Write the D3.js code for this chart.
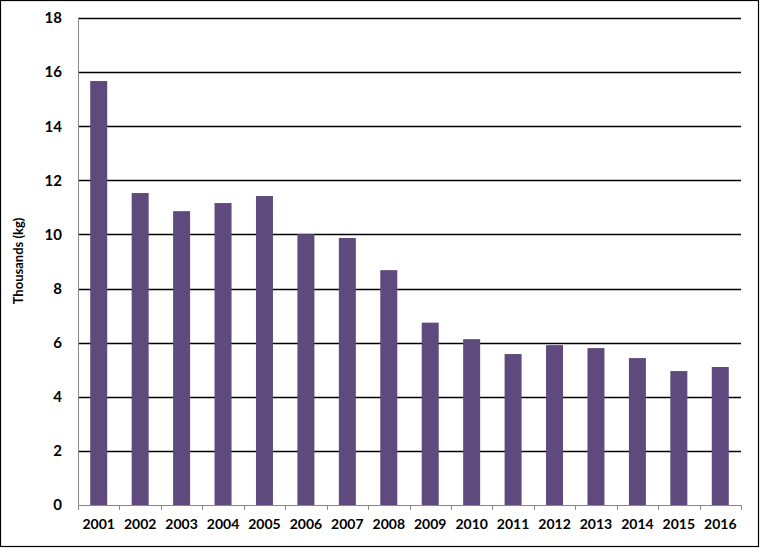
<!DOCTYPE html>
<html><head><meta charset="utf-8">
<script src="https://cdn.jsdelivr.net/npm/d3@7"></script>
<style>body{margin:0;background:#fff}svg{display:block}text{font-family:Lato,"Open Sans",sans-serif;font-weight:bold;fill:#000}</style>
</head><body><svg id="c" width="760" height="548"></svg>
<script>
const years = ["2001","2002","2003","2004","2005","2006","2007","2008","2009","2010","2011","2012","2013","2014","2015","2016"];
const values = [15.67,11.53,10.86,11.16,11.42,10.01,9.87,8.68,6.74,6.13,5.58,5.91,5.80,5.43,4.95,5.10];
const yTicks = [0,2,4,6,8,10,12,14,16,18];
const yLabel = "Thousands (kg)";

const svg = d3.select("#c");
const m = {l:78, r:741, t:18, b:505};
const x = d3.scaleBand().domain(years).range([m.l, m.r]).paddingInner(0.59).paddingOuter(0.295);
const y = d3.scaleLinear().domain([0,18]).range([m.b, m.t]);

svg.append("rect").attr("x",0.5).attr("y",0.5).attr("width",758).attr("height",546).attr("fill","none").attr("stroke","#000").attr("stroke-width",1.2);

svg.append("g").selectAll("line").data(yTicks.filter(d=>d>0)).join("line")
  .attr("x1",m.l).attr("x2",m.r).attr("y1",d=>Math.round(y(d))+0.5).attr("y2",d=>Math.round(y(d))+0.5)
  .attr("stroke","#000").attr("stroke-width",1.3);

svg.append("g").selectAll("rect").data(values).join("rect")
  .attr("x",(d,i)=>x(years[i])).attr("width",x.bandwidth())
  .attr("y",d=>y(d)).attr("height",d=>y(0)-y(d)).attr("fill","#5e4a7d");

// left axis line
svg.append("line").attr("x1",m.l+0.5).attr("x2",m.l+0.5).attr("y1",m.t).attr("y2",m.b).attr("stroke","#888");
// bottom axis
const xa = d3.axisBottom(x).tickSize(0).tickPadding(14);
const gx = svg.append("g").attr("transform",`translate(0,${m.b})`).call(xa);
gx.select(".domain").attr("stroke","#888");
gx.selectAll("text").style("font-size","14px").style("font-family","Lato, 'Open Sans', sans-serif").style("font-weight","bold").attr("fill","#000");
const step = x.step();
svg.append("g").selectAll("line").data(d3.range(years.length+1)).join("line")
  .attr("x1",i=>Math.round(m.l+i*(m.r-m.l)/years.length)+0.5).attr("x2",i=>Math.round(m.l+i*(m.r-m.l)/years.length)+0.5)
  .attr("y1",m.b).attr("y2",m.b+5).attr("stroke","#888");

const ya = d3.axisLeft(y).tickValues(yTicks).tickSize(0).tickPadding(16);
const gy = svg.append("g").attr("transform",`translate(${m.l},0)`).call(ya);
gy.select(".domain").remove();
gy.selectAll("text").style("font-size","15px").style("font-family","Lato, 'Open Sans', sans-serif").style("font-weight","bold").attr("fill","#000");

svg.append("text").attr("transform","translate(23,261) rotate(-90)").attr("text-anchor","middle")
  .style("font-size","13px").text(yLabel);
</script></body></html>
